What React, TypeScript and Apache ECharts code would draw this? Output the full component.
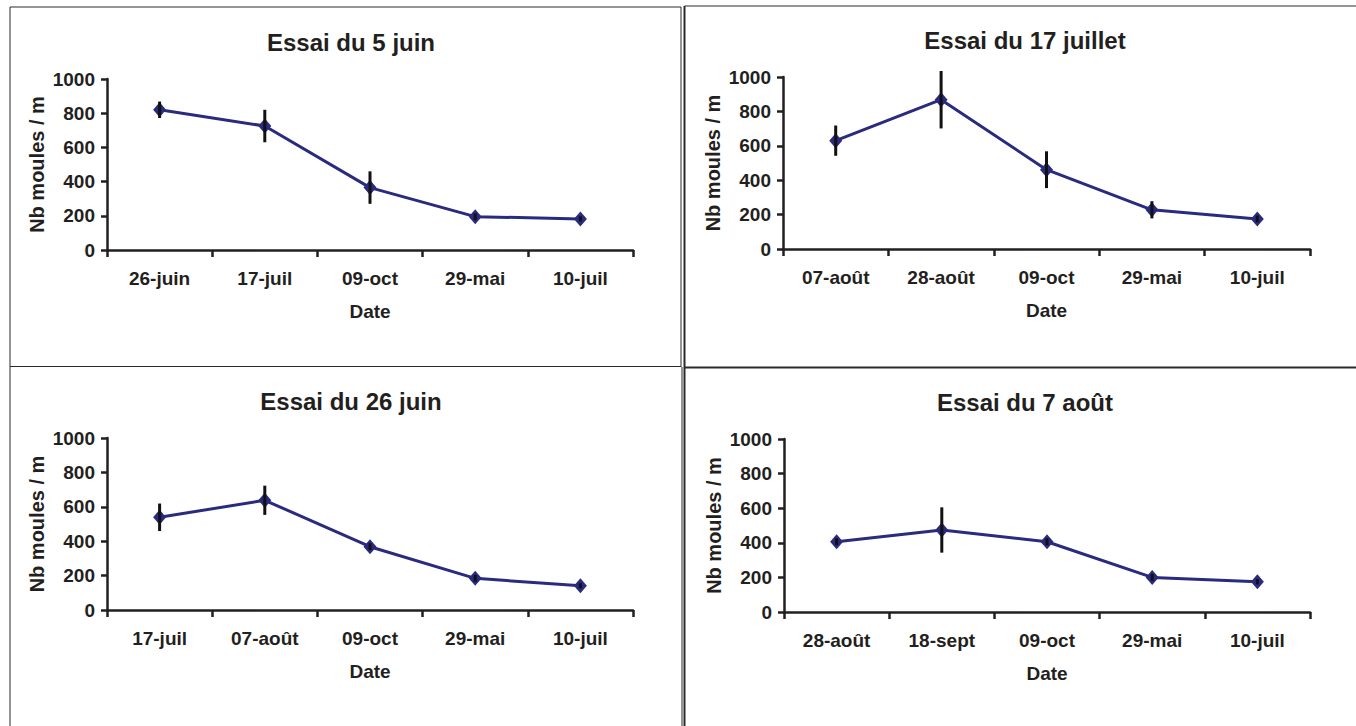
import React, { useEffect, useRef } from "react";
import * as echarts from "echarts";

const titles = ["Essai du 5 juin", "Essai du 17 juillet", "Essai du 26 juin", "Essai du 7 août"];

const cats1 = ["26-juin", "17-juil", "09-oct", "29-mai", "10-juil"];
const vals1 = [820, 725, 365, 195, 182];
const err1 = [48, 95, 95, 20, 15];

const cats2 = ["07-août", "28-août", "09-oct", "29-mai", "10-juil"];
const vals2 = [630, 868, 461, 228, 175];
const err2 = [88, 167, 107, 50, 20];

const cats3 = ["17-juil", "07-août", "09-oct", "29-mai", "10-juil"];
const vals3 = [539, 638, 368, 184, 141];
const err3 = [80, 85, 20, 20, 15];

const cats4 = ["28-août", "18-sept", "09-oct", "29-mai", "10-juil"];
const vals4 = [406, 474, 406, 200, 175];
const err4 = [20, 131, 20, 20, 15];

const yTicks = { min: 0, max: 1000, interval: 200 };
const xName = "Date";
const yName = "Nb moules / m";

const FONT = "'Liberation Sans', Arial, Helvetica, sans-serif";
const TXT = "#231f20";
const LINE = "#2a2a7e";

// layout (pixels)
const grids = [
  { left: 107, top: 79, width: 526, height: 171 },
  { left: 783, top: 77, width: 527, height: 172 },
  { left: 107, top: 438, width: 526, height: 172 },
  { left: 784, top: 439, width: 526, height: 173 },
];
const titlePos = [
  { x: 346, y: 25 },
  { x: 1020, y: 23 },
  { x: 346, y: 384 },
  { x: 1020, y: 385 },
];

export default function App() {
  const ref = useRef<HTMLDivElement>(null);
  useEffect(() => {
    if (!ref.current) return;
    const chart = echarts.init(ref.current, null, { renderer: "svg" });
    const panels = [
      { cats: cats1, vals: vals1, err: err1 },
      { cats: cats2, vals: vals2, err: err2 },
      { cats: cats3, vals: vals3, err: err3 },
      { cats: cats4, vals: vals4, err: err4 },
    ];
    const series: any[] = [];
    panels.forEach((p, i) => {
      series.push({
        type: "line",
        xAxisIndex: i,
        yAxisIndex: i,
        data: p.vals,
        symbol: "diamond",
        symbolSize: [13, 15],
        lineStyle: { color: LINE, width: 3 },
        itemStyle: { color: LINE },
        z: 2,
      });
      series.push({
        type: "custom",
        xAxisIndex: i,
        yAxisIndex: i,
        encode: { x: 0, y: [1, 2] },
        data: p.vals.map((v, k) => [k, v - p.err[k], v + p.err[k]]),
        renderItem: (params: any, api: any) => {
          const a = api.coord([api.value(0), api.value(1)]);
          const b = api.coord([api.value(0), api.value(2)]);
          return {
            type: "line",
            shape: { x1: a[0], y1: a[1], x2: b[0], y2: b[1] },
            style: { stroke: "#111", lineWidth: 3 },
          };
        },
        z: 3,
      });
    });

    const frame = (x1: number, y1: number, x2: number, y2: number, w = 1) => ({
      type: "line",
      shape: { x1, y1, x2, y2 },
      style: { stroke: "#2a2a2a", lineWidth: w },
      silent: true,
    });

    const option: any = {
      animation: false,
      backgroundColor: "#ffffff",
      title: titles.map((t, i) => ({
        text: t,
        left: titlePos[i].x,
        top: titlePos[i].y,
        textAlign: "center",
        textStyle: { fontFamily: FONT, fontSize: 24, fontWeight: "bold", color: TXT },
      })),
      grid: grids.map((g) => ({ ...g, containLabel: false })),
      xAxis: panels.map((p, i) => ({
        type: "category",
        gridIndex: i,
        data: p.cats,
        boundaryGap: true,
        name: xName,
        nameLocation: "middle",
        nameGap: 52,
        nameTextStyle: { fontFamily: FONT, fontSize: 19, fontWeight: "bold", color: TXT },
        axisLine: { lineStyle: { color: TXT, width: 2.5 } },
        axisTick: { show: true, length: 7, lineStyle: { color: TXT, width: 2.5 } },
        axisLabel: {
          interval: 0,
          margin: 19,
          fontFamily: FONT,
          fontSize: 19,
          fontWeight: "bold",
          color: TXT,
        },
        splitLine: { show: false },
      })),
      yAxis: panels.map((_p, i) => ({
        type: "value",
        gridIndex: i,
        min: yTicks.min,
        max: yTicks.max,
        interval: yTicks.interval,
        name: yName,
        nameLocation: "middle",
        nameGap: 60,
        nameTextStyle: { fontFamily: FONT, fontSize: 20, fontWeight: "bold", color: TXT },
        axisLine: { show: true, lineStyle: { color: TXT, width: 2.5 } },
        axisTick: { show: true, length: 6, lineStyle: { color: TXT, width: 2.5 } },
        axisLabel: {
          margin: 12,
          fontFamily: FONT,
          fontSize: 19,
          fontWeight: "bold",
          color: TXT,
          formatter: (v: number) => String(v),
        },
        splitLine: { show: false },
      })),
      graphic: [
        frame(10, 7, 10, 726),
        frame(10, 7, 681, 7),
        frame(681, 7, 681, 367),
        frame(682, 367, 682, 726),
        frame(10, 366.5, 681, 366.5),
        frame(684.5, 6, 1356, 6),
        frame(684.5, 6, 684.5, 726, 2),
        frame(684.5, 367.5, 1356, 367.5, 2),
      ],
      series,
    };
    chart.setOption(option);
    return () => chart.dispose();
  }, []);
  return (
    <div
      ref={ref}
      style={{ position: "absolute", left: 0, top: 0, width: 1356, height: 726 }}
    />
  );
}
